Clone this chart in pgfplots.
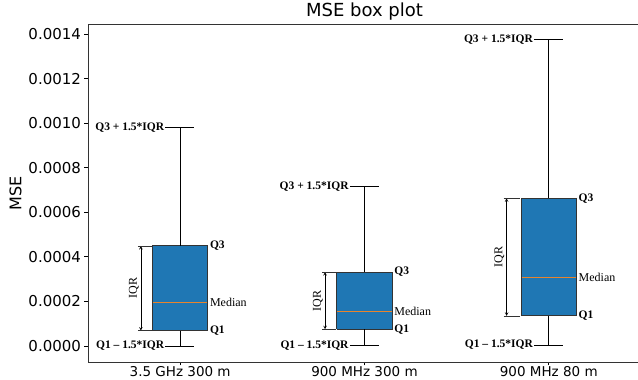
\documentclass[border=0pt]{standalone}
\usepackage{fontspec}
\setmainfont{DejaVu Sans}
\newfontfamily\serif[Ligatures=TeX]{Liberation Serif}
\usepackage{pgfplots}
\pgfplotsset{compat=1.18}
\definecolor{boxblue}{HTML}{1F77B4}
\definecolor{medorange}{HTML}{E8842C}
\newcommand{\annb}{\serif\bfseries\fontsize{11.5}{12}\selectfont}
\newcommand{\annr}{\serif\fontsize{12}{13}\selectfont}
% all MSE values below are given in units of 1e-4
% box 1: lw 0.0,   q1 0.687, med 1.96, q3 4.49, uw 9.81
% box 2: lw 0.013, q1 0.749, med 1.57, q3 3.32, uw 7.15
% box 3: lw 0.045, q1 1.35,  med 3.08, q3 6.63, uw 13.76
\begin{document}
\begin{tikzpicture}
\begin{axis}[
  name=ax,
  scale only axis,
  width=553pt, height=338pt,
  xmin=0.5, xmax=3.5,
  ymin=-0.718, ymax=14.45,
  xtick={1,2,3},
  xticklabels={3.5 GHz 300 m, 900 MHz 300 m, 900 MHz 80 m},
  ytick={0,2,4,6,8,10,12,14},
  yticklabels={0.0000,0.0002,0.0004,0.0006,0.0008,0.0010,0.0012,0.0014},
  yticklabel style={font=\fontsize{15}{16}\selectfont},
  xticklabel style={font=\fontsize{13.5}{14}\selectfont, inner sep=1pt},
  xtick pos=bottom, ytick pos=left,
  tick align=outside,
  major tick length=3.5pt,
  tick style={black, line width=0.8pt},
  axis line style={black!80, line width=0.9pt},
  title={MSE box plot},
  title style={font=\fontsize{18}{19}\selectfont, yshift=-6pt},
  ylabel={MSE},
  ylabel style={font=\fontsize{16}{17}\selectfont},
  every axis plot/.append style={no marks, forget plot},
]
% boxes (Q1 to Q3)
\addplot[fill=boxblue, draw=black!80, line width=0.9pt] coordinates {(0.85,0.687) (1.15,0.687) (1.15,4.49) (0.85,4.49) (0.85,0.687)};
\addplot[fill=boxblue, draw=black!80, line width=0.9pt] coordinates {(1.85,0.749) (2.15,0.749) (2.15,3.32) (1.85,3.32) (1.85,0.749)};
\addplot[fill=boxblue, draw=black!80, line width=0.9pt] coordinates {(2.85,1.35) (3.15,1.35) (3.15,6.63) (2.85,6.63) (2.85,1.35)};
% medians
\addplot[draw=medorange, line width=1pt] coordinates {(0.852,1.96) (1.148,1.96)};
\addplot[draw=medorange, line width=1pt] coordinates {(1.852,1.57) (2.148,1.57)};
\addplot[draw=medorange, line width=1pt] coordinates {(2.852,3.08) (3.148,3.08)};
% whiskers
\addplot[black, line width=0.8pt] coordinates {(1,4.49) (1,9.81)};
\addplot[black, line width=0.8pt] coordinates {(1,0.687) (1,0.0)};
\addplot[black, line width=0.8pt] coordinates {(2,3.32) (2,7.15)};
\addplot[black, line width=0.8pt] coordinates {(2,0.749) (2,0.013)};
\addplot[black, line width=0.8pt] coordinates {(3,6.63) (3,13.76)};
\addplot[black, line width=0.8pt] coordinates {(3,1.35) (3,0.045)};
% caps
\addplot[black, line width=0.8pt] coordinates {(0.92,9.81) (1.076,9.81)};
\addplot[black, line width=0.8pt] coordinates {(0.92,0.0) (1.076,0.0)};
\addplot[black, line width=0.8pt] coordinates {(1.92,7.15) (2.076,7.15)};
\addplot[black, line width=0.8pt] coordinates {(1.92,0.013) (2.076,0.013)};
\addplot[black, line width=0.8pt] coordinates {(2.92,13.76) (3.076,13.76)};
\addplot[black, line width=0.8pt] coordinates {(2.92,0.045) (3.076,0.045)};

% annotations box 1
\node[anchor=east, inner sep=1pt, font=\annb] at (axis cs:0.92,9.81) {Q3 + 1.5*IQR};
\node[anchor=east, inner sep=1pt, font=\annb] at (axis cs:0.92,0.0) {Q1 – 1.5*IQR};
\node[anchor=west, inner sep=2pt, font=\annb] at (axis cs:1.15,4.49) {Q3};
\node[anchor=west, inner sep=2pt, font=\annb] at (axis cs:1.15,0.687) {Q1};
\node[anchor=west, inner sep=2pt, font=\annr] at (axis cs:1.15,1.96) {Median};
\draw[<->, >=stealth, line width=0.6pt] (axis cs:0.787,4.49) -- (axis cs:0.787,0.687);
\draw[line width=0.6pt, black!80] (axis cs:0.77,4.49) -- (axis cs:0.845,4.49);
\draw[line width=0.6pt, black!80] (axis cs:0.77,0.687) -- (axis cs:0.845,0.687);
\node[rotate=90, anchor=south, inner sep=2pt, font=\annr] at (axis cs:0.787,2.59) {IQR};

% annotations box 2
\node[anchor=east, inner sep=1pt, font=\annb] at (axis cs:1.92,7.15) {Q3 + 1.5*IQR};
\node[anchor=east, inner sep=1pt, font=\annb] at (axis cs:1.92,0.013) {Q1 – 1.5*IQR};
\node[anchor=west, inner sep=2pt, font=\annb] at (axis cs:2.15,3.32) {Q3};
\node[anchor=west, inner sep=2pt, font=\annb] at (axis cs:2.15,0.749) {Q1};
\node[anchor=west, inner sep=2pt, font=\annr] at (axis cs:2.15,1.57) {Median};
\draw[<->, >=stealth, line width=0.6pt] (axis cs:1.786,3.32) -- (axis cs:1.786,0.749);
\draw[line width=0.6pt, black!80] (axis cs:1.77,3.32) -- (axis cs:1.845,3.32);
\draw[line width=0.6pt, black!80] (axis cs:1.77,0.749) -- (axis cs:1.845,0.749);
\node[rotate=90, anchor=south, inner sep=2pt, font=\annr] at (axis cs:1.786,2.03) {IQR};

% annotations box 3
\node[anchor=east, inner sep=1pt, font=\annb] at (axis cs:2.92,13.76) {Q3 + 1.5*IQR};
\node[anchor=east, inner sep=1pt, font=\annb] at (axis cs:2.92,0.045) {Q1 – 1.5*IQR};
\node[anchor=west, inner sep=2pt, font=\annb] at (axis cs:3.15,6.63) {Q3};
\node[anchor=west, inner sep=2pt, font=\annb] at (axis cs:3.15,1.35) {Q1};
\node[anchor=west, inner sep=2pt, font=\annr] at (axis cs:3.15,3.08) {Median};
\draw[<->, >=stealth, line width=0.6pt] (axis cs:2.771,6.63) -- (axis cs:2.771,1.35);
\draw[line width=0.6pt, black!80] (axis cs:2.755,6.63) -- (axis cs:2.845,6.63);
\draw[line width=0.6pt, black!80] (axis cs:2.755,1.35) -- (axis cs:2.845,1.35);
\node[rotate=90, anchor=south, inner sep=2pt, font=\annr] at (axis cs:2.771,3.99) {IQR};
\end{axis}
\pgfresetboundingbox
\path[use as bounding box] ([shift={(-88pt,-18pt)}]ax.south west) rectangle ([shift={(550pt,362pt)}]ax.south west);
\end{tikzpicture}
\end{document}
